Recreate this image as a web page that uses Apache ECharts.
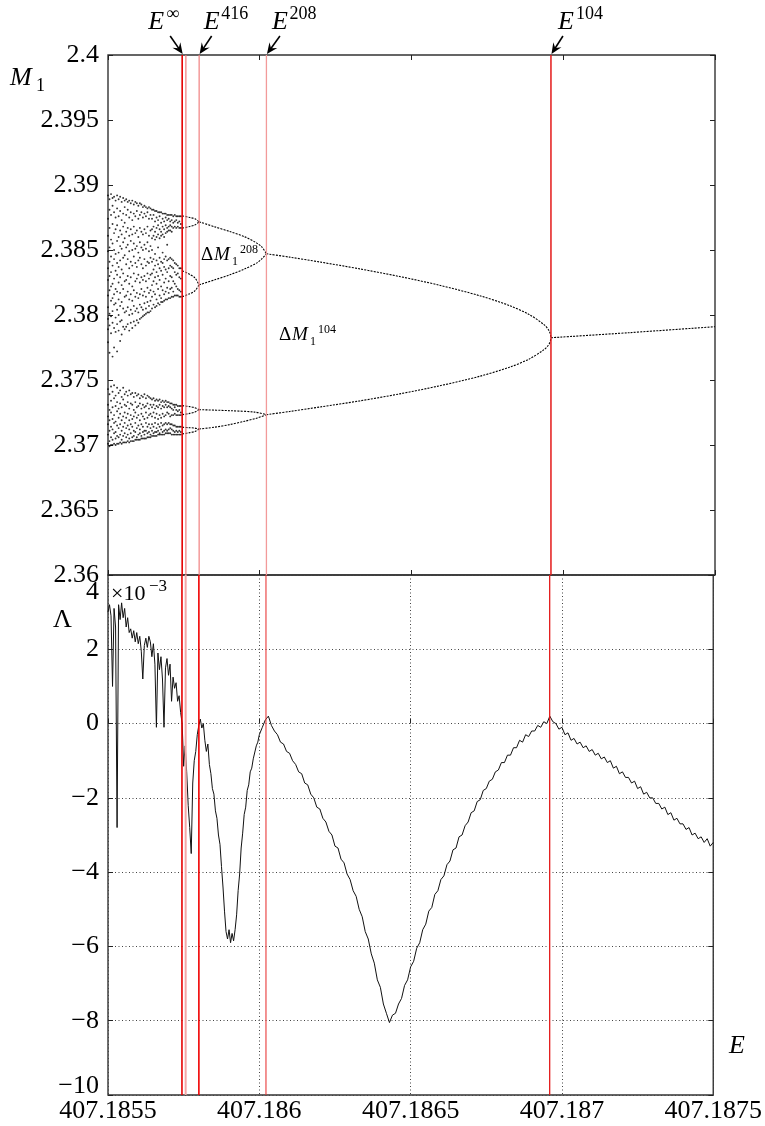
<!DOCTYPE html>
<html><head><meta charset="utf-8">
<script src="https://cdn.jsdelivr.net/npm/echarts@6.0.0/dist/echarts.min.js"></script>
<style>html,body{margin:0;padding:0;background:#fff}#c{width:765px;height:1126px}</style>
</head><body><div id="c"></div>
<script>
// ---------------- DATA ----------------
const xMin = 407.1855, xMax = 407.1875, xStep = 0.0005;
const m1Min = 2.36, m1Max = 2.4, m1Step = 0.005;
const lamMin = -10, lamMax = 4, lamStep = 2;

// critical parameter values (red lines): E^inf, (next), E^416, E^208, E^104
const criticalE = [407.1857444, 407.1857566, 407.1858003, 407.186022, 407.1869595];
const criticalSup = ['\u221e', null, '416', '208', '104'];

// chaotic band samples (columns of E, M1 values)
const chaosE = [407.1855,407.185505,407.18551,407.185515,407.18552,407.185525,407.18553,407.185535,407.18554,407.185545,
407.18555,407.185555,407.18556,407.185565,407.18557,407.185575,407.18558,407.185585,407.18559,407.185595,
407.1856,407.185605,407.18561,407.185615,407.18562,407.185625,407.18563,407.185635,407.18564,407.185645,
407.18565,407.185655,407.18566,407.185665,407.18567,407.185675,407.18568,407.185685,407.18569,407.185695,
407.1857,407.185705,407.18571,407.185715,407.18572,407.185725,407.18573,407.185735,407.18574];
const chaosM = [
[2.3892,2.3874,2.3861,2.3849,2.3836,2.3827,2.3815,2.3806,2.3797,2.3789,2.3779,2.3743,2.3731,2.3722,2.3716,2.3708,2.3701],
[2.3889,2.3881,2.3867,2.3852,2.3841,2.3830,2.3819,2.3801,2.3792,2.3771,2.3739,2.3727,2.3719,2.3711,2.3703,2.3699],
[2.3893,2.3877,2.3858,2.3845,2.3833,2.3822,2.3811,2.3799,2.3786,2.3745,2.3734,2.3725,2.3714,2.3706,2.3700],
[2.3890,2.3884,2.3870,2.3855,2.3838,2.3824,2.3813,2.3803,2.3794,2.3768,2.3741,2.3729,2.3720,2.3712,2.3704,2.3700],
[2.3891,2.3879,2.3863,2.3850,2.3843,2.3828,2.3816,2.3808,2.3790,2.3775,2.3746,2.3736,2.3723,2.3717,2.3709,2.3701],
[2.3888,2.3875,2.3866,2.3847,2.3834,2.3820,2.3809,2.3798,2.3787,2.3738,2.3730,2.3718,2.3710,2.3705,2.3700],
[2.3892,2.3882,2.3869,2.3857,2.3840,2.3831,2.3818,2.3804,2.3793,2.3772,2.3744,2.3733,2.3726,2.3715,2.3707,2.3701],
[2.3889,2.3876,2.3860,2.3848,2.3837,2.3825,2.3812,2.3800,2.3788,2.3740,2.3728,2.3721,2.3713,2.3706,2.3701],
[2.3891,2.3880,2.3865,2.3853,2.3842,2.3829,2.3817,2.3807,2.3795,2.3780,2.3742,2.3732,2.3724,2.3716,2.3708,2.3702],
[2.3887,2.3873,2.3862,2.3851,2.3835,2.3823,2.3810,2.3796,2.3785,2.3737,2.3729,2.3719,2.3711,2.3704,2.3701],
[2.3890,2.3878,2.3868,2.3856,2.3844,2.3832,2.3820,2.3805,2.3791,2.3744,2.3735,2.3722,2.3714,2.3707,2.3702],
[2.3888,2.3883,2.3871,2.3859,2.3846,2.3826,2.3814,2.3802,2.3789,2.3739,2.3731,2.3725,2.3717,2.3709,2.3702],
[2.3889,2.3877,2.3864,2.3852,2.3839,2.3827,2.3815,2.3803,2.3791,2.3741,2.3730,2.3721,2.3713,2.3706,2.3702],
[2.3887,2.3881,2.3867,2.3854,2.3843,2.3830,2.3818,2.3806,2.3793,2.3738,2.3733,2.3724,2.3715,2.3708,2.3703],
[2.3888,2.3875,2.3861,2.3849,2.3836,2.3824,2.3812,2.3800,2.3788,2.3742,2.3728,2.3719,2.3712,2.3705,2.3702],
[2.3886,2.3879,2.3866,2.3857,2.3841,2.3829,2.3816,2.3804,2.3794,2.3739,2.3732,2.3723,2.3716,2.3709,2.3703],
[2.3888,2.3873,2.3862,2.3850,2.3838,2.3822,2.3811,2.3801,2.3790,2.3740,2.3731,2.3720,2.3714,2.3706,2.3703],
[2.3885,2.3878,2.3868,2.3855,2.3845,2.3832,2.3819,2.3807,2.3795,2.3737,2.3727,2.3722,2.3711,2.3707,2.3703],
[2.3887,2.3876,2.3863,2.3851,2.3840,2.3826,2.3814,2.3803,2.3792,2.3740,2.3733,2.3725,2.3717,2.3710,2.3704],
[2.3886,2.3880,2.3865,2.3853,2.3837,2.3828,2.3817,2.3805,2.3796,2.3738,2.3729,2.3721,2.3713,2.3706,2.3704],
[2.3884,2.3874,2.3860,2.3848,2.3842,2.3831,2.3813,2.3802,2.3794,2.3739,2.3730,2.3723,2.3715,2.3708,2.3704],
[2.3886,2.3877,2.3867,2.3856,2.3844,2.3825,2.3816,2.3808,2.3797,2.3736,2.3732,2.3719,2.3712,2.3709,2.3704],
[2.3885,2.3879,2.3864,2.3852,2.3839,2.3829,2.3820,2.3806,2.3798,2.3738,2.3728,2.3724,2.3716,2.3707,2.3705],
[2.3883,2.3875,2.3862,2.3850,2.3836,2.3827,2.3815,2.3804,2.3799,2.3737,2.3731,2.3722,2.3714,2.3710,2.3705],
[2.3884,2.3878,2.3866,2.3854,2.3843,2.3830,2.3818,2.3809,2.3800,2.3739,2.3729,2.3720,2.3711,2.3708,2.3705],
[2.3883,2.3876,2.3863,2.3851,2.3838,2.3826,2.3814,2.3805,2.3801,2.3736,2.3730,2.3725,2.3717,2.3711,2.3705],
[2.3882,2.3879,2.3868,2.3856,2.3841,2.3832,2.3821,2.3810,2.3802,2.3738,2.3732,2.3721,2.3714,2.3709,2.3706],
[2.3883,2.3874,2.3861,2.3849,2.3840,2.3828,2.3817,2.3807,2.3802,2.3737,2.3728,2.3723,2.3716,2.3710,2.3706],
[2.3882,2.3877,2.3865,2.3853,2.3844,2.3831,2.3819,2.3811,2.3803,2.3736,2.3731,2.3724,2.3713,2.3708,2.3706],
[2.3881,2.3874,2.3866,2.3859,2.3850,2.3841,2.3832,2.3823,2.3814,2.3805,2.3735,2.3729,2.3722,2.3716,2.3711,2.3707],
[2.3881,2.3877,2.3868,2.3861,2.3843,2.3835,2.3826,2.3818,2.3808,2.3736,2.3731,2.3725,2.3714,2.3709,2.3707],
[2.3880,2.3872,2.3864,2.3858,2.3847,2.3838,2.3829,2.3816,2.3806,2.3734,2.3728,2.3721,2.3717,2.3710,2.3707],
[2.3880,2.3875,2.3867,2.3860,2.3842,2.3833,2.3824,2.3812,2.3807,2.3735,2.3730,2.3724,2.3713,2.3710,2.3707],
[2.3879,2.3873,2.3869,2.3862,2.3852,2.3839,2.3830,2.3820,2.3809,2.3734,2.3729,2.3720,2.3716,2.3711,2.3708],
[2.3879,2.3876,2.3866,2.3859,2.3844,2.3836,2.3827,2.3815,2.3808,2.3735,2.3731,2.3723,2.3714,2.3709,2.3708],
[2.3879,2.3871,2.3864,2.3861,2.3841,2.3834,2.3822,2.3813,2.3810,2.3733,2.3728,2.3721,2.3717,2.3712,2.3708],
[2.3878,2.3874,2.3868,2.3862,2.3848,2.3840,2.3831,2.3819,2.3810,2.3734,2.3730,2.3724,2.3715,2.3710,2.3708],
[2.3878,2.3872,2.3866,2.3860,2.3843,2.3837,2.3825,2.3816,2.3811,2.3733,2.3729,2.3722,2.3716,2.3711,2.3708],
[2.3878,2.3875,2.3869,2.3863,2.3845,2.3835,2.3828,2.3818,2.3812,2.3734,2.3731,2.3723,2.3717,2.3712,2.3709],
[2.3877,2.3873,2.3867,2.3864,2.3854,2.3842,2.3833,2.3821,2.3812,2.3733,2.3729,2.3725,2.3716,2.3711,2.3709],
[2.3877,2.3874,2.3868,2.3865,2.3843,2.3836,2.3826,2.3817,2.3813,2.3733,2.3730,2.3724,2.3717,2.3712,2.3709],
[2.3877,2.3872,2.3869,2.3865,2.3844,2.3838,2.3830,2.3820,2.3813,2.3732,2.3729,2.3722,2.3716,2.3713,2.3709],
[2.3877,2.3873,2.3868,2.3864,2.3843,2.3837,2.3829,2.3821,2.3814,2.3732,2.3728,2.3723,2.3716,2.3712,2.3708],
[2.3876,2.3871,2.3867,2.3842,2.3836,2.3826,2.3818,2.3814,2.3731,2.3727,2.3723,2.3715,2.3711,2.3708],
[2.3877,2.3872,2.3868,2.3840,2.3833,2.3824,2.3815,2.3731,2.3729,2.3724,2.3715,2.3710,2.3708],
[2.3876,2.3873,2.3867,2.3839,2.3831,2.3822,2.3815,2.3731,2.3727,2.3723,2.3714,2.3711,2.3708],
[2.3876,2.3871,2.3868,2.3838,2.3832,2.3820,2.3815,2.3730,2.3726,2.3723,2.3714,2.3710,2.3708],
[2.3876,2.3872,2.3867,2.3836,2.3829,2.3819,2.3814,2.3730,2.3727,2.3723,2.3714,2.3711,2.3708],
[2.3876,2.3870,2.3867,2.3836,2.3828,2.3818,2.3814,2.3730,2.3725,2.3723,2.3714,2.3710,2.3708]
];

// periodic branches [E, M1]
const period104 = [[407.1869595,2.37825],[407.1872171,2.37864],[407.1875,2.37910]];
const period208Up = [[407.186022,2.38471],[407.1860987,2.38445],[407.1861974,2.38408],[407.186329,2.38355],[407.1864605,2.38296],[407.1865921,2.38229],[407.1867237,2.38149],[407.1868224,2.38073],[407.1868882,2.38003],[407.1869375,2.37924],[407.1869507,2.37888],[407.1869572,2.37857],[407.1869595,2.37825]];
const period208Lo = [[407.186022,2.37233],[407.1860987,2.37258],[407.1861974,2.37292],[407.186329,2.37339],[407.1864605,2.37393],[407.1865921,2.37455],[407.1867237,2.37528],[407.1868224,2.37598],[407.1868882,2.37662],[407.1869375,2.37735],[407.1869507,2.37767],[407.1869572,2.37796],[407.1869595,2.37825]];
const period416A = [[407.1858003,2.38717],[407.185852,2.38678],[407.1859013,2.38642],[407.1859507,2.38601],[407.1859891,2.38555],[407.1860066,2.38524],[407.186022,2.38471]];
const period416B = [[407.1858003,2.38232],[407.185852,2.38271],[407.1859013,2.38309],[407.1859507,2.38355],[407.1859891,2.38399],[407.1860066,2.38432],[407.186022,2.38471]];
const period416C = [[407.1858003,2.37272],[407.1859013,2.37264],[407.1859836,2.37253],[407.186022,2.37233]];
const period416D = [[407.1858003,2.37123],[407.185852,2.37137],[407.1859013,2.37157],[407.1859507,2.37183],[407.1859891,2.37206],[407.186022,2.37233]];
const period832A = [[407.1857444,2.38763],[407.1857697,2.3875],[407.1857862,2.3874],[407.1858003,2.38717]];
const period832B = [[407.1857444,2.38668],[407.1857697,2.38681],[407.1857862,2.38692],[407.1858003,2.38717]];
const period832C = [[407.1857444,2.3834],[407.1857697,2.38312],[407.1857862,2.38286],[407.1858003,2.38232]];
const period832D = [[407.1857444,2.3814],[407.1857697,2.38164],[407.1857862,2.38186],[407.1858003,2.38232]];
const period832E = [[407.1857444,2.37303],[407.1857697,2.37295],[407.1857862,2.37287],[407.1858003,2.37272]];
const period832F = [[407.1857444,2.37233],[407.1857697,2.37243],[407.1857862,2.37253],[407.1858003,2.37272]];
const period832G = [[407.1857444,2.37136],[407.1857697,2.37133],[407.1857862,2.3713],[407.1858003,2.37123]];
const period832H = [[407.1857444,2.37085],[407.1857697,2.37095],[407.1857862,2.37104],[407.1858003,2.37123]];

// Lyapunov exponent (x 1e-3)
const lyapE = [407.1855,407.185505,407.18551,407.185515,407.18552,407.185525,407.18553,407.185535,407.18554,407.185545,
407.18555,407.185555,407.18556,407.185565,407.18557,407.185575,407.18558,407.185585,407.18559,407.185595,
407.1856,407.185605,407.18561,407.185615,407.18562,407.185625,407.18563,407.185635,407.18564,407.185645,
407.18565,407.185655,407.18566,407.185665,407.18567,407.185675,407.18568,407.185685,407.18569,407.185695,
407.1857,407.185705,407.18571,407.185715,407.18572,407.185725,407.18573,407.185735,407.18574,407.185745,
407.18575,407.185755,407.18576,407.185765,407.18577,407.185775,407.18578,407.185785,407.18579,407.185795,
407.1858,407.185805,407.18581,407.185815,407.18582,407.185825,407.18583,407.185835,407.18584,407.185845,
407.18585,407.185855,407.18586,407.185865,407.18587,407.185875,407.18588,407.185885,407.18589,407.185895,
407.1859,407.185905,407.18591,407.185915,407.18592,407.185925,407.18593,407.185935,407.18594,407.185945,
407.18595,407.185955,407.18596,407.185965,407.18597,407.185975,407.18598,407.185985,407.18599,407.185995,
407.186,
407.18601,407.18602,407.18603,407.18604,407.18605,407.18606,407.18607,407.18608,407.18609,407.1861,
407.18611,407.18612,407.18613,407.18614,407.18615,407.18616,407.18617,407.18618,407.18619,407.1862,
407.18621,407.18622,407.18623,407.18624,407.18625,407.18626,407.18627,407.18628,407.18629,407.1863,
407.18631,407.18632,407.18633,407.18634,407.18635,407.18636,407.18637,407.18638,407.18639,407.1864,
407.18641,407.18642,407.18643,407.18644,407.18645,407.18646,407.18647,407.18648,407.18649,407.1865,
407.18651,407.18652,407.18653,407.18654,407.18655,407.18656,407.18657,407.18658,407.18659,407.1866,
407.18661,407.18662,407.18663,407.18664,407.18665,407.18666,407.18667,407.18668,407.18669,407.1867,
407.18671,407.18672,407.18673,407.18674,407.18675,407.18676,407.18677,407.18678,407.18679,407.1868,
407.18681,407.18682,407.18683,407.18684,407.18685,407.18686,407.18687,407.18688,407.18689,407.1869,
407.18691,407.18692,407.18693,407.18694,407.18695,407.18696,407.18697,407.18698,407.18699,407.187,
407.18701,407.18702,407.18703,407.18704,407.18705,407.18706,407.18707,407.18708,407.18709,407.1871,
407.18711,407.18712,407.18713,407.18714,407.18715,407.18716,407.18717,407.18718,407.18719,407.1872,
407.18721,407.18722,407.18723,407.18724,407.18725,407.18726,407.18727,407.18728,407.18729,407.1873,
407.18731,407.18732,407.18733,407.18734,407.18735,407.18736,407.18737,407.18738,407.18739,407.1874,
407.18741,407.18742,407.18743,407.18744,407.18745,407.18746,407.18747,407.18748,407.18749,407.1875];
const lyapL = [3.0,3.2,2.9,1.0,3.1,2.6,-2.8,3.2,2.8,3.25,
2.85,3.1,2.6,2.85,2.45,2.55,2.3,2.5,2.2,2.45,
2.15,2.35,1.95,1.2,2.1,2.3,2.05,2.35,2.2,1.8,
2.15,1.6,-0.1,1.9,1.45,1.8,1.2,-0.1,1.5,1.75,
1.3,1.6,0.6,1.25,0.95,1.1,0.6,0.75,0.3,0.0,
-1.15,-0.6,-1.3,-2.2,-2.8,-3.5,-1.6,-1.0,-0.75,-0.3,
-0.05,0.12,-0.12,0.0,-0.45,-0.75,-0.55,-1.1,-1.35,-1.75,
-1.9,-2.35,-2.55,-3.0,-3.25,-3.85,-4.4,-5.05,-5.6,-5.8,
-5.55,-5.9,-5.65,-5.85,-5.55,-5.15,-4.5,-4.05,-3.35,-2.95,
-2.45,-2.25,-1.8,-1.65,-1.3,-1.2,-0.95,-0.9,-0.6,-0.5,
-0.3,
-0.1,0.1,0.2,-0.05,-0.2,-0.3,-0.5,-0.55,-0.75,-0.8,
-1.0,-1.1,-1.3,-1.35,-1.6,-1.65,-1.9,-2.0,-2.25,-2.3,
-2.55,-2.65,-2.9,-3.0,-3.3,-3.35,-3.65,-3.75,-4.05,-4.2,
-4.5,-4.65,-5.0,-5.2,-5.6,-5.8,-6.2,-6.45,-6.9,-7.1,
-7.55,-7.8,-8.05,-7.85,-7.8,-7.55,-7.4,-7.05,-6.9,-6.55,
-6.4,-6.05,-5.9,-5.55,-5.4,-5.05,-4.95,-4.6,-4.5,-4.2,
-4.1,-3.8,-3.7,-3.4,-3.35,-3.05,-3.0,-2.75,-2.65,-2.4,
-2.35,-2.1,-2.05,-1.8,-1.75,-1.55,-1.5,-1.3,-1.25,-1.05,
-1.05,-0.85,-0.85,-0.65,-0.65,-0.45,-0.5,-0.3,-0.35,-0.2,
-0.2,-0.05,-0.1,0.05,0.0,0.2,0.05,0.0,-0.15,-0.1,
-0.3,-0.25,-0.45,-0.4,-0.55,-0.5,-0.65,-0.6,-0.75,-0.7,
-0.85,-0.8,-0.95,-0.9,-1.05,-1.0,-1.2,-1.15,-1.35,-1.3,
-1.45,-1.45,-1.6,-1.55,-1.75,-1.7,-1.9,-1.85,-2.0,-2.0,
-2.15,-2.15,-2.3,-2.25,-2.45,-2.4,-2.6,-2.55,-2.7,-2.7,
-2.85,-2.8,-3.0,-2.95,-3.1,-3.05,-3.2,-3.1,-3.3,-3.2];

// ---------------- CHART ----------------
const FONT = "'Liberation Serif','DejaVu Serif',serif";
const chart = echarts.init(document.getElementById('c'), null, {renderer:'canvas'});

const chaosPts = [];
chaosE.forEach((e, i) => chaosM[i].forEach(m => chaosPts.push([e, m])));
const lyapPts = lyapE.map((e, i) => [e, lyapL[i]]);
const branches = [period104, period208Up, period208Lo, period416A, period416B, period416C, period416D,
  period832A, period832B, period832C, period832D, period832E, period832F, period832G, period832H];

const topRed = [
  {c:'#e60000', w:1.6}, {c:'#f07a7a', w:1.2}, {c:'#f08080', w:1.2}, {c:'#f29a9a', w:1.3}, {c:'#e41a1a', w:1.5}];
const botRed = [
  {c:'#e60000', w:1.6}, {c:'#f4a6a6', w:2}, {c:'#f00000', w:1.6}, {c:'#e83a3a', w:1.1}, {c:'#e41a1a', w:1.3}];

const tickStyle = {show:true, inside:true, length:5, lineStyle:{color:'#222', width:1}};
function xAxisBase(grid, pos, showLabel, split) {
  return {type:'value', gridIndex:grid, position:pos, min:xMin, max:xMax, interval:xStep,
    axisLine:{show:false}, axisTick:tickStyle,
    axisLabel:{show:showLabel, color:'#000', fontFamily:FONT, fontSize:26, margin:3,
      formatter: v => String(+v.toFixed(4))},
    splitLine:{show:split, lineStyle:{color:'#444', type:[1,2.5], width:1}}};
}

function redLine(e, sty, xi, yi, lo, hi) {
  return {type:'line', xAxisIndex:xi, yAxisIndex:yi, data:[[e, lo], [e, hi]], showSymbol:false, symbol:'none',
    lineStyle:{color:sty.c, width:sty.w}, silent:true, z:6, clip:true};
}

const option = {
  animation:false,
  backgroundColor:'#fff',
  grid:[
    {left:108, top:55, width:607, height:520, show:true, borderColor:'#333', borderWidth:1.4, backgroundColor:'transparent'},
    {left:108, top:575, width:607, height:520, show:true, borderColor:'#333', borderWidth:1.4, backgroundColor:'transparent'}
  ],
  xAxis:[
    xAxisBase(0,'bottom',false,false),
    xAxisBase(0,'top',false,false),
    xAxisBase(1,'bottom',true,true),
  ],
  yAxis:[
    {type:'value', gridIndex:0, position:'left', min:m1Min, max:m1Max, interval:m1Step,
     axisLine:{show:false}, axisTick:tickStyle, splitLine:{show:false},
     axisLabel:{color:'#000', fontFamily:FONT, fontSize:26, margin:9, formatter: v => String(+v.toFixed(3))}},
    {type:'value', gridIndex:0, position:'right', min:m1Min, max:m1Max, interval:m1Step,
     axisLine:{show:false}, axisTick:tickStyle, splitLine:{show:false}, axisLabel:{show:false}},
    {type:'value', gridIndex:1, position:'left', min:lamMin, max:lamMax, interval:lamStep,
     axisLine:{show:false}, axisTick:tickStyle,
     splitLine:{show:true, lineStyle:{color:'#444', type:[1,2.5], width:1}},
     axisLabel:{color:'#000', fontFamily:FONT, fontSize:26, margin:9,
       formatter: v => {
         if (v === lamMax) return '{lo|' + v + '}';
         const s = v < 0 ? '\u2212' + (-v) : String(v);
         if (v === lamMin) return '{hi|' + s + '}';
         return s;
       },
       rich:{
         lo:{padding:[34,0,0,0], fontFamily:FONT, fontSize:26, color:'#000'},
         hi:{padding:[0,0,18,0], fontFamily:FONT, fontSize:26, color:'#000'}
       }}},
    {type:'value', gridIndex:1, position:'right', min:lamMin, max:lamMax, interval:lamStep,
     axisLine:{show:false}, axisTick:tickStyle, splitLine:{show:false}, axisLabel:{show:false}}
  ],
  series:[
    {type:'scatter', xAxisIndex:0, yAxisIndex:0, data:chaosPts, symbolSize:1.9,
     itemStyle:{color:'#000'}, silent:true, z:2},
    ...branches.map(b => ({type:'line', xAxisIndex:0, yAxisIndex:0, data:b, showSymbol:false, symbol:'none',
      smooth:0.3, lineStyle:{color:'#000', width:1.1, type:[2,1.2]}, silent:true, z:2})),
    ...criticalE.map((e, i) => redLine(e, topRed[i], 0, 0, m1Min, m1Max)),
    {type:'line', xAxisIndex:2, yAxisIndex:2, data:lyapPts, showSymbol:false, symbol:'none',
     lineStyle:{color:'#111', width:1}, silent:true, z:3},
    ...criticalE.map((e, i) => redLine(e, botRed[i], 2, 2, lamMin, lamMax))
  ]
};
chart.setOption(option);

// ---------------- ANNOTATIONS ----------------
const g = [];
function txt(x, y, text, size, opts) {
  g.push({type:'text', x, y, z:100, silent:true,
    style:Object.assign({text, fontFamily:FONT, fontSize:size, fill:'#000',
      textAlign:'left', textVerticalAlign:'middle'}, opts || {})});
}
function arrow(x1, y1, x2, y2) {
  const dx = x2 - x1, dy = y2 - y1, L = Math.hypot(dx, dy);
  const ux = dx / L, uy = dy / L, nx = -uy, ny = ux;
  g.push({type:'line', z:100, silent:true, shape:{x1, y1, x2:x2 - ux*5, y2:y2 - uy*5},
    style:{stroke:'#000', lineWidth:1.6}});
  g.push({type:'polygon', z:100, silent:true, shape:{points:[
    [x2, y2], [x2 - ux*11 + nx*4.8, y2 - uy*11 + ny*4.8], [x2 - ux*7, y2 - uy*7],
    [x2 - ux*11 - nx*4.8, y2 - uy*11 - ny*4.8]]}, style:{fill:'#000'}});
}
const topY = chart.convertToPixel({yAxisIndex:0}, m1Max);
// label layout relative to each critical line: [E-centre dx, superscript dx, arrow start dx]
const labelLayout = {0:[-26, -16, -12], 2:[12.5, 22, 12.5], 3:[13.5, 23, 13.5], 4:[15, 25, 12]};
criticalE.forEach((e, i) => {
  if (!criticalSup[i]) return;
  const px = chart.convertToPixel({xAxisIndex:1}, e);
  const L = labelLayout[i];
  txt(px + L[0], topY - 33, 'E', 26, {textAlign:'center', fontStyle:'italic'});
  txt(px + L[1], topY - 41, criticalSup[i], 18, {textAlign:'left'});
  arrow(px + L[2], topY - 19, px + 0.5, topY - 1);
});

// axis names
txt(10, 78, 'M', 26, {fontStyle:'italic'});
txt(36, 86, '1', 18);
txt(53, 620, '\u039b', 26);
txt(729, 1046, 'E', 26, {fontStyle:'italic'});
// x10^-3
txt(111, 594, '\u00d710', 22);
txt(149, 587, '\u22123', 17);
// Delta M labels
txt(201, 255, '\u0394', 19);
txt(214, 255, 'M', 19, {fontStyle:'italic'});
txt(232, 262, '1', 12);
txt(240, 250, '208', 12);
txt(279, 335, '\u0394', 19);
txt(292, 335, 'M', 19, {fontStyle:'italic'});
txt(310, 342, '1', 12);
txt(318, 330, '104', 12);

chart.setOption({graphic:g});
</script>
</body></html>
